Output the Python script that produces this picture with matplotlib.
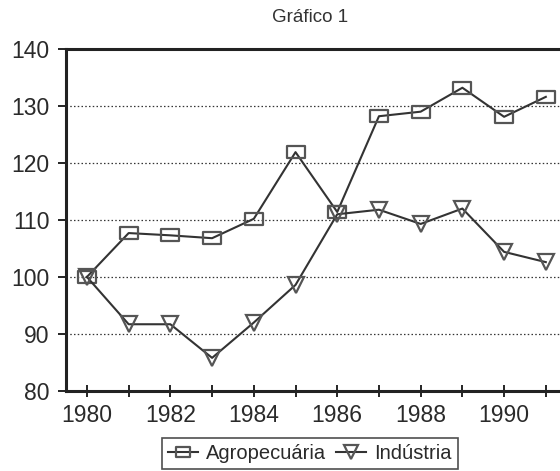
import matplotlib.pyplot as plt
from matplotlib.path import Path

years = list(range(1980, 1992))
agro = [100, 107.7, 107.3, 106.8, 110.2, 121.9, 111.4, 128.2, 129.0, 133.2, 128.1, 131.6]
industria = [100, 91.7, 91.7, 85.8, 92.0, 98.6, 111.0, 111.8, 109.3, 112.0, 104.4, 102.6]
yticks = [80, 90, 100, 110, 120, 130, 140]
xticks = [1980, 1982, 1984, 1986, 1988, 1990]

plt.rcParams["font.family"] = ["Liberation Sans", "DejaVu Sans"]

# wide rectangle marker
rect = Path([(-1.45, -1), (1.45, -1), (1.45, 1), (-1.45, 1), (-1.45, -1)],
            [Path.MOVETO, Path.LINETO, Path.LINETO, Path.LINETO, Path.CLOSEPOLY])

fig = plt.figure(figsize=(5.6, 4.71), dpi=100)
ax = fig.add_axes([0.118, 0.170, 0.882, 0.726])

line_kw = dict(color="#333333", lw=1.5, mfc="none", mec="#555555", mew=1.6)
ax.plot(years, agro, marker=rect, ms=13, label="Agropecuária", **line_kw)
ax.plot(years, industria, marker="v", ms=12, label="Indústria", **line_kw)

ax.set_xlim(1979.5, 1991.34)
ax.set_ylim(80, 140)
ax.set_yticks(yticks)
ax.set_xticks(years, minor=True)
ax.set_xticks(xticks)
ax.tick_params(axis="y", direction="out", length=6, width=1.2, labelsize=16.5,
               pad=6, labelcolor="#2a2a2a")
ax.tick_params(axis="x", which="both", direction="inout", length=9, width=1.2,
               labelsize=16.5, pad=5, labelcolor="#2a2a2a")
for y in yticks[1:-1]:
    ax.axhline(y, color="#333333", lw=0.9, ls=(0, (1.2, 1.8)), zorder=0)

for side in ["left", "bottom", "top"]:
    ax.spines[side].set_linewidth(2.2)
    ax.spines[side].set_color("#222222")
ax.spines["right"].set_visible(False)

fig.text(0.553, 0.962, "Gráfico 1", ha="center", va="center", fontsize=13.5, color="#333333")

leg = fig.legend(loc="upper center", bbox_to_anchor=(0.553, 0.071), ncol=2,
                 fontsize=14.5, frameon=True, fancybox=False, edgecolor="#222222",
                 handlelength=1.5, handletextpad=0.4, columnspacing=0.5,
                 borderpad=0.3, borderaxespad=0, markerscale=0.8,
                 labelcolor="#2a2a2a")
leg.get_frame().set_linewidth(1.2)

fig.savefig("out.png", dpi=100)
